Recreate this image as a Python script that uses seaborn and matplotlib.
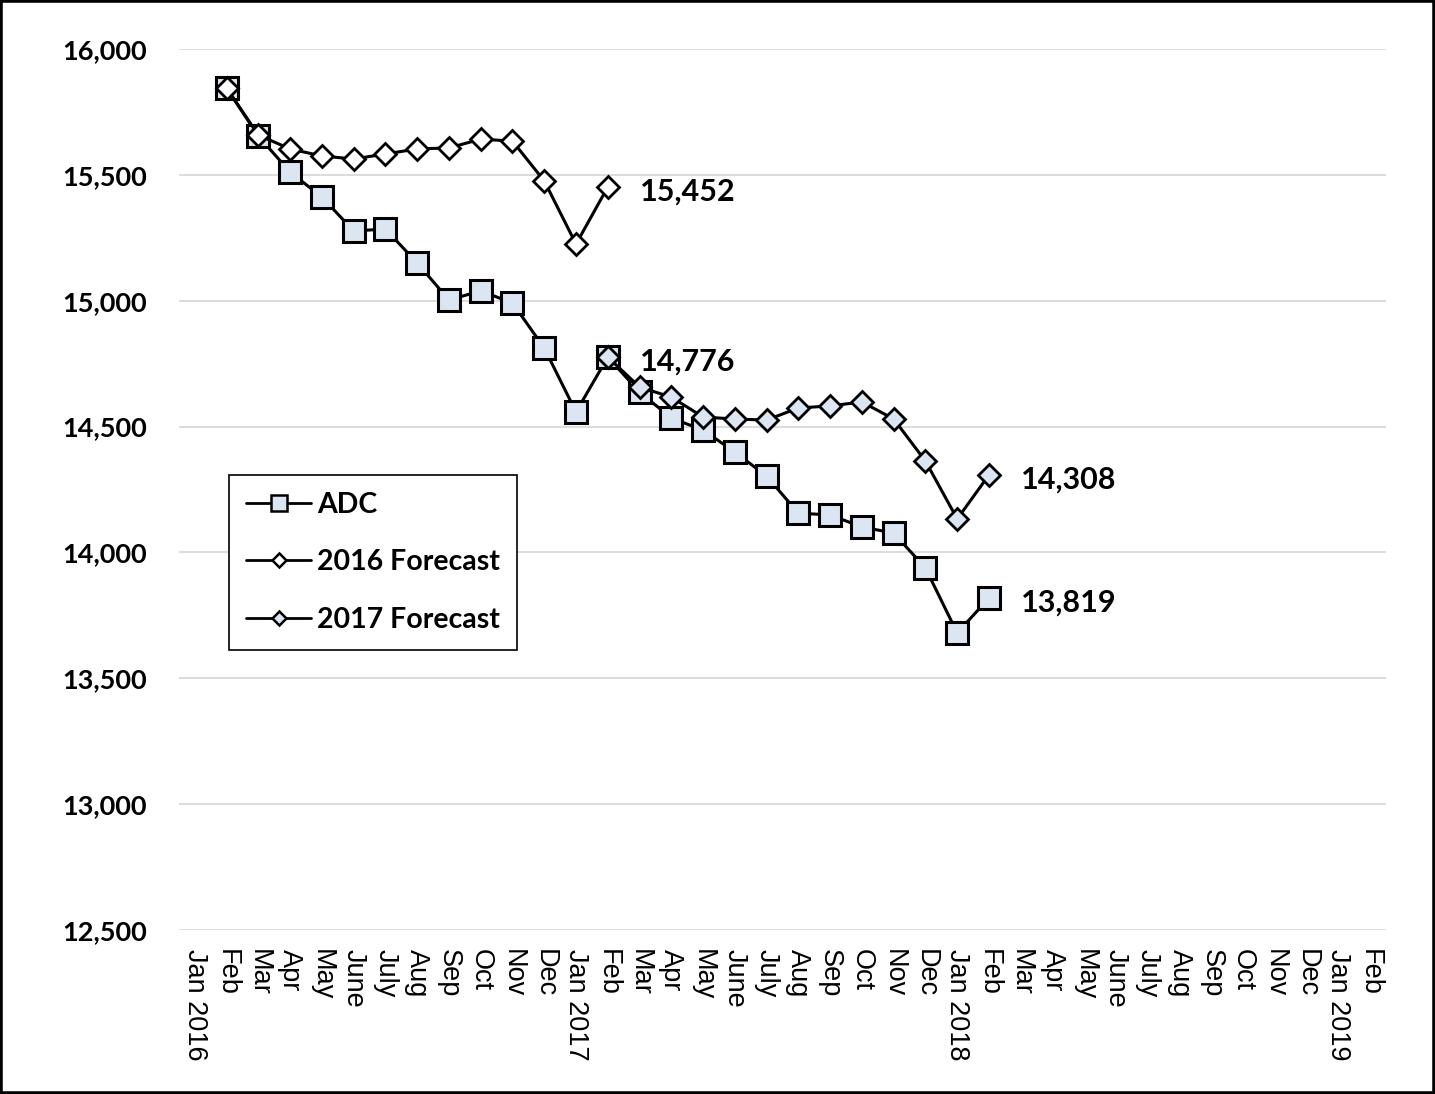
import matplotlib
matplotlib.use("Agg")
import matplotlib.pyplot as plt
import seaborn as sns
from matplotlib.patches import Rectangle
from matplotlib.ticker import FuncFormatter

# month categories on the x axis
month_labels = ["Jan 2016", "Feb", "Mar", "Apr", "May", "June", "July", "Aug", "Sep", "Oct", "Nov", "Dec",
                "Jan 2017", "Feb", "Mar", "Apr", "May", "June", "July", "Aug", "Sep", "Oct", "Nov", "Dec",
                "Jan 2018", "Feb", "Mar", "Apr", "May", "June", "July", "Aug", "Sep", "Oct", "Nov", "Dec",
                "Jan 2019", "Feb"]

# series values (first value sits on the month given by *_start)
adc = [15845, 15654, 15511, 15412, 15277, 15285, 15150, 15003, 15039, 14991, 14812, 14558,
       14776, 14637, 14534, 14486, 14399, 14303, 14156, 14149, 14101, 14077, 13938, 13680, 13819]
fc2016 = [15845, 15658, 15603, 15575, 15563, 15583, 15603, 15607, 15642, 15634, 15476, 15225, 15452]
fc2017 = [14776, 14657, 14617, 14538, 14530, 14526, 14574, 14582, 14598, 14530, 14363, 14133, 14308]
adc_start = 1
fc2016_start = 1
fc2017_start = 13

y_ticks = [12500, 13000, 13500, 14000, 14500, 15000, 15500, 16000]

fill = "#dce6f2"

sns.set_style("white")
plt.rcParams["font.family"] = ["Lato", "DejaVu Sans"]

fig = plt.figure(figsize=(14.35, 10.94), dpi=100)
ax = fig.add_axes([0.1247, 0.1499, 0.8412, 0.8053])


def label_point(x, v):
    ax.annotate(f"{v:,}", xy=(x, v), xytext=(23, -3.5),
                textcoords="offset points", va="center", ha="left",
                fontsize=22, fontweight="bold", color="black")


series = [
    ("ADC", adc, adc_start, "s", 16.5, fill, 2.2, 11.5),
    ("2016 Forecast", fc2016, fc2016_start, "D", 11.3, "white", 2.0, 6.8),
    ("2017 Forecast", fc2017, fc2017_start, "D", 11.3, fill, 2.0, 6.8),
]
legend_sizes = []
for i, (name, vals, start, mk, ms, fc, mew, lms) in enumerate(series):
    xs = list(range(start, start + len(vals)))
    sns.lineplot(x=xs, y=vals, ax=ax, color="black", lw=2.2, marker=mk, markersize=ms,
                 markerfacecolor=fc, markeredgecolor="black", markeredgewidth=mew,
                 label=name, zorder=3 + i)
    legend_sizes.append(lms)
    label_point(xs[-1], vals[-1])

# the 2017 forecast also carries its starting value
label_point(fc2017_start, fc2017[0])

ax.set_xlim(-0.5, len(month_labels) - 0.5)
ax.set_ylim(12500, 16000)
ax.set_xticks(range(len(month_labels)))
ax.set_xticklabels(month_labels, rotation=-90, fontsize=19.5, family=["Liberation Sans"])
ax.set_yticks(y_ticks)
ax.yaxis.set_major_formatter(FuncFormatter(lambda v, p: f"{v:,.0f}"))
for t in ax.get_yticklabels():
    t.set_fontsize(19.5)
    t.set_fontweight("bold")
ax.tick_params(axis="x", length=0, pad=14, colors="black")
ax.tick_params(axis="y", length=0, pad=23, colors="black")
ax.yaxis.grid(True, color="#d9d9d9", lw=1.3)
ax.xaxis.grid(False)
ax.set_axisbelow(True)
for s in ax.spines.values():
    s.set_visible(False)
ax.set_xlabel("")
ax.set_ylabel("")

leg = ax.legend(loc="upper left", bbox_to_anchor=(0.0414, 0.5165), borderaxespad=0,
                frameon=True, fancybox=False, framealpha=1, edgecolor="black",
                prop={"weight": "bold", "size": 20.5}, handlelength=2.3,
                handletextpad=0.2, labelspacing=1.1, borderpad=0.6)
leg.get_frame().set_linewidth(1.2)
for h, lms in zip(leg.legend_handles, legend_sizes):
    h.set_markersize(lms)
    h.set_linewidth(2)
    h.set_markeredgewidth(1.8)
for t in leg.get_texts():
    t.set_color("black")

fig.add_artist(Rectangle((0, 0), 1, 1, transform=fig.transFigure, fill=False,
                         edgecolor="black", lw=4))

fig.savefig("out.png", dpi=100)
